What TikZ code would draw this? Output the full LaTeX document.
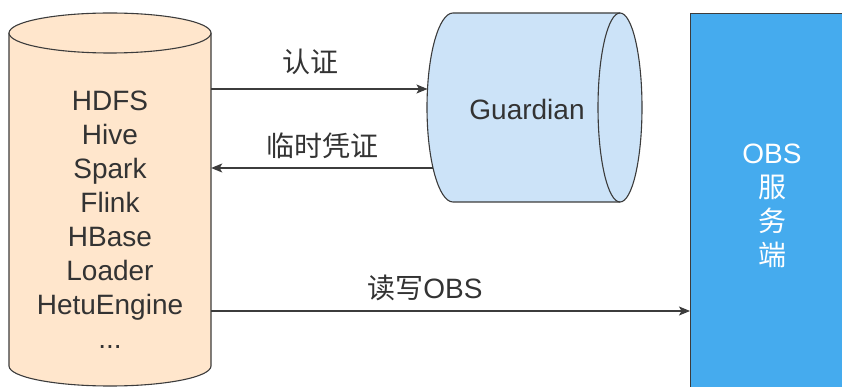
\documentclass[tikz,border=0pt]{standalone}
\usepackage{fontspec}
\setmainfont{Liberation Sans}
\newfontfamily\cjk{Noto Sans CJK SC}
\usetikzlibrary{arrows.meta}
\definecolor{peach}{HTML}{FFE6CC}
\definecolor{lblue}{HTML}{CCE3F8}
\definecolor{obsblue}{HTML}{45ABEE}
\definecolor{edgec}{HTML}{3C3C3C}
\definecolor{txt}{HTML}{333333}
\tikzset{
  outline/.style={draw=edgec, line width=1.1pt},
  conn/.style={draw=edgec, line width=1.1pt, -{Stealth[length=11pt,width=9pt,inset=2.5pt]}},
  lbl/.style={text=txt, font=\fontsize{28}{34}\selectfont, inner sep=0pt},
}
\begin{document}
\begin{tikzpicture}[x=1pt,y=-1pt]
\useasboundingbox (0,0) rectangle (842,387);
% left cylinder
\fill[peach] (9,33) -- (9,366) arc[start angle=180,end angle=0,x radius=101,y radius=20] -- (211,33) -- cycle;
\draw[outline] (9,33) -- (9,366) arc[start angle=180,end angle=0,x radius=101,y radius=20] -- (211,33);
\draw[outline, fill=peach] (110,33) ellipse[x radius=101, y radius=20];
\node[inner sep=0pt, minimum width=202pt, minimum height=353pt] (store) at (110,209.5) {};
\node[lbl, align=center, anchor=base] (storetext) at (110,348) {HDFS\\Hive\\Spark\\Flink\\HBase\\Loader\\HetuEngine\\...};
% Guardian cylinder
\fill[lblue] (453,13) -- (620,13) arc[start angle=-90,end angle=90,x radius=22,y radius=94.5] -- (453,202) arc[start angle=90,end angle=270,x radius=26,y radius=94.5] -- cycle;
\draw[outline] (620,13) -- (453,13) arc[start angle=270,end angle=90,x radius=26,y radius=94.5] -- (620,202);
\draw[outline] (620,107.5) ellipse[x radius=22, y radius=94.5];
\node[lbl] (guard) at (527,109) {Guardian};
% OBS server
\node[outline, fill=obsblue, minimum width=160pt, minimum height=380pt, anchor=north west] (obs) at (690,13) {};
\node[lbl, text=white, align=center] (obstext) at (772,206) {OBS\\{\cjk 服}\\{\cjk 务}\\{\cjk 端}};
% connector end points
\coordinate (a1s) at (store.east |- 0,89);
\coordinate (a1e) at (427.5,89);
\coordinate (a2s) at (433,168);
\coordinate (a2e) at (store.east |- 0,168);
\coordinate (a3s) at (store.east |- 0,311);
\coordinate (a3e) at (obs.west |- 0,311);
\draw[conn] (a1s) -- (a1e);
\draw[conn] (a2s) -- (a2e);
\draw[conn] (a3s) -- (a3e);
\node[lbl] (l1) at (310,62) {\cjk 认证};
\node[lbl] (l2) at (322,146) {\cjk 临时凭证};
\node[lbl] (l3) at (425,288) {{\cjk 读写}OBS};
\end{tikzpicture}
\end{document}
